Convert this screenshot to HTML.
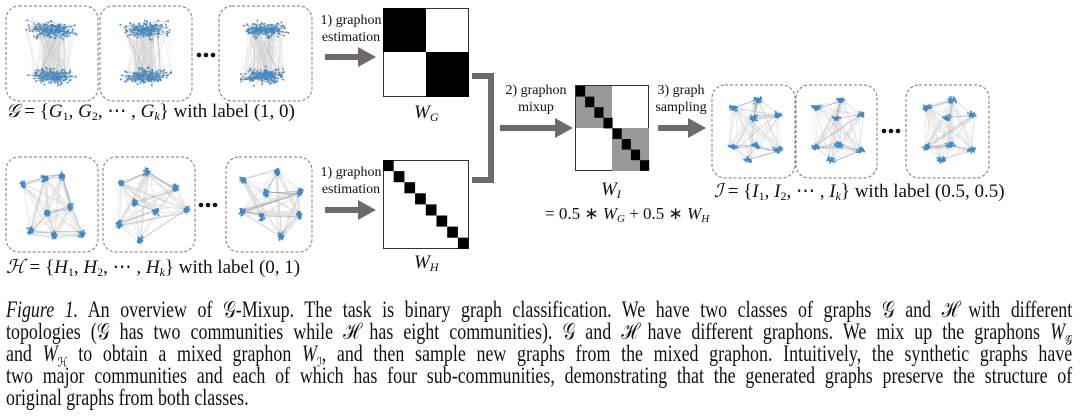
<!DOCTYPE html>
<html><head><meta charset="utf-8"><style>
body{margin:0;background:#fff;width:1080px;height:420px;overflow:hidden;position:relative;font-family:"Liberation Serif",serif;}
svg{position:absolute;left:0;top:0}
.cap{position:absolute;left:6px;width:1367px;font-size:23px;line-height:22px;color:#111;transform:scaleX(0.78);transform-origin:0 0;}
.cap div{text-align:justify;text-align-last:justify;white-space:nowrap;height:22px}
.cap div.last{text-align-last:left}
</style></head><body>
<svg id="s" width="1080" height="290" viewBox="0 0 1080 290" font-family="Liberation Serif, serif">
<g id="graphs"></g>
<g fill="none" stroke="#777" stroke-dasharray="3,2" stroke-width="1">
<rect x="6" y="6" width="92" height="95" rx="13"/><rect x="100" y="6" width="92" height="95" rx="13"/><rect x="219" y="6" width="93" height="95" rx="13"/>
<rect x="6" y="157" width="92" height="95" rx="13"/><rect x="103" y="157" width="92" height="95" rx="13"/><rect x="226" y="157" width="86" height="95" rx="13"/>
<rect x="712" y="85" width="83" height="93" rx="13"/><rect x="796" y="85" width="81" height="93" rx="13"/><rect x="906" y="85" width="83" height="93" rx="13"/>
</g>
<g fill="#111"><circle cx="199" cy="55" r="2.3"/><circle cx="206" cy="55" r="2.3"/><circle cx="213" cy="55" r="2.3"/>
<circle cx="201" cy="205" r="2.3"/><circle cx="208" cy="205" r="2.3"/><circle cx="215" cy="205" r="2.3"/>
<circle cx="884" cy="131" r="2.3"/><circle cx="891" cy="131" r="2.3"/><circle cx="898" cy="131" r="2.3"/></g>
<g font-size="19" fill="#111">
<text x="6" y="117"><tspan font-style="italic">𝒢</tspan> = {<tspan font-style="italic">G</tspan><tspan font-size="12" dy="3">1</tspan><tspan dy="-3">, </tspan><tspan font-style="italic">G</tspan><tspan font-size="12" dy="3">2</tspan><tspan dy="-3">, ⋯ , </tspan><tspan font-style="italic">G</tspan><tspan font-size="12" dy="3" font-style="italic">k</tspan><tspan dy="-3">} with label (1, 0)</tspan></text>
<text x="6" y="273"><tspan font-style="italic">ℋ</tspan> = {<tspan font-style="italic">H</tspan><tspan font-size="12" dy="3">1</tspan><tspan dy="-3">, </tspan><tspan font-style="italic">H</tspan><tspan font-size="12" dy="3">2</tspan><tspan dy="-3">, ⋯ , </tspan><tspan font-style="italic">H</tspan><tspan font-size="12" dy="3" font-style="italic">k</tspan><tspan dy="-3">} with label (0, 1)</tspan></text>
<text x="714" y="197"><tspan font-style="italic">ℐ</tspan> = {<tspan font-style="italic">I</tspan><tspan font-size="12" dy="3">1</tspan><tspan dy="-3">, </tspan><tspan font-style="italic">I</tspan><tspan font-size="12" dy="3">2</tspan><tspan dy="-3">, ⋯ , </tspan><tspan font-style="italic">I</tspan><tspan font-size="12" dy="3" font-style="italic">k</tspan><tspan dy="-3">} with label (0.5, 0.5)</tspan></text>
<text x="414" y="118" font-style="italic">W<tspan font-size="12" dy="3">G</tspan></text>
<text x="414" y="268" font-style="italic">W<tspan font-size="12" dy="3">H</tspan></text>
<text x="601" y="195" font-style="italic">W<tspan font-size="12" dy="3">I</tspan></text>
<text x="545" y="219" font-size="17">= 0.5 ∗ <tspan font-style="italic">W</tspan><tspan font-size="11" dy="3" font-style="italic">G</tspan><tspan dy="-3"> + 0.5 ∗ </tspan><tspan font-style="italic">W</tspan><tspan font-size="11" dy="3" font-style="italic">H</tspan></text>
</g>
<g font-size="14" fill="#111" text-anchor="middle">
<text x="351" y="24">1) graphon</text><text x="351" y="41">estimation</text>
<text x="351" y="176">1) graphon</text><text x="351" y="193">estimation</text>
<text x="536" y="94">2) graphon</text><text x="536" y="111">mixup</text>
<text x="681" y="94">3) graph</text><text x="681" y="111">sampling</text>
</g>
<g fill="#6e6a69">
<path d="M325 54 H358 V47 L376 57 L358 67 V60 H325Z"/>
<path d="M325 207 H358 V200 L376 210 L358 220 V213 H325Z"/>
<path d="M500 125 H555 V118 L573 128 L555 138 V131 H500Z"/>
<path d="M658 125 H688 V118 L706 128 L688 138 V131 H658Z"/>
</g>
<path d="M472 76 H491 V180 H472" fill="none" stroke="#6e6a69" stroke-width="6"/>
<g stroke="#333" stroke-width="1">
<rect x="383.5" y="8.5" width="85" height="88" fill="#fff"/>
<rect x="383.5" y="160.5" width="85" height="88" fill="#fff"/>
<rect x="575.5" y="85.5" width="73" height="85" fill="#fff"/>
</g>
<rect x="383" y="8" width="43" height="44" fill="#000"/><rect x="426" y="52" width="43" height="45" fill="#000"/>
<g id="wh" fill="#000"></g>
<rect x="576" y="86" width="36" height="42" fill="#999"/><rect x="612" y="128" width="37" height="43" fill="#999"/>
<g id="wi" fill="#000"></g>
</svg>
<div class="cap" style="top:299px">
<div><i>Figure 1.</i> An overview of 𝒢-Mixup. The task is binary graph classification. We have two classes of graphs 𝒢 and ℋ with different</div>
<div>topologies (𝒢 has two communities while ℋ has eight communities). 𝒢 and ℋ have different graphons. We mix up the graphons <i>W</i><sub style="font-size:13px">𝒢</sub></div>
<div>and <i>W</i><sub style="font-size:13px">ℋ</sub> to obtain a mixed graphon <i>W</i><sub style="font-size:13px">ℐ</sub>, and then sample new graphs from the mixed graphon. Intuitively, the synthetic graphs have</div>
<div>two major communities and each of which has four sub-communities, demonstrating that the generated graphs preserve the structure of</div>
<div class="last">original graphs from both classes.</div>
</div>
<script>
var NS="http://www.w3.org/2000/svg";
var seed=7;function r(){seed=(seed*16807)%2147483647;return (seed-1)/2147483646;}
function n(){return (r()+r()+r()-1.5)/1.5;}
var g=document.getElementById("graphs");
function graph(cs,rx,ry,per,ne){
 var pts=[];cs.forEach(function(c){for(var i=0;i<per;i++)pts.push([c[0]+n()*rx,c[1]+n()*ry]);});
 var d="";for(var i=0;i<pts.length*ne;i++){var a=pts[Math.floor(r()*pts.length)],b=pts[Math.floor(r()*pts.length)];d+="M"+a[0].toFixed(1)+" "+a[1].toFixed(1)+"L"+b[0].toFixed(1)+" "+b[1].toFixed(1);}
 var p=document.createElementNS(NS,"path");p.setAttribute("d",d);p.setAttribute("stroke","#cfcfcf");p.setAttribute("stroke-width","0.3");p.setAttribute("fill","none");g.appendChild(p);
 var d3="";pts.forEach(function(q,i){if(i%2==0){var b=pts[Math.max(0,i-1-Math.floor(r()*5))];d3+="M"+q[0].toFixed(1)+" "+q[1].toFixed(1)+"L"+b[0].toFixed(1)+" "+b[1].toFixed(1);}});
 var p3=document.createElementNS(NS,"path");p3.setAttribute("d",d3);p3.setAttribute("stroke","#999");p3.setAttribute("stroke-width","0.4");p3.setAttribute("fill","none");g.appendChild(p3);
 var d2="";pts.forEach(function(q){d2+="M"+(q[0]-0.8).toFixed(1)+" "+q[1].toFixed(1)+"h1.6";});
 var p2=document.createElementNS(NS,"path");p2.setAttribute("d",d2);p2.setAttribute("stroke","#3f8ac6");p2.setAttribute("stroke-width","1.6");g.appendChild(p2);
}
[[52,0],[146,0],[265,0]].forEach(function(o){graph([[o[0],30],[o[0],76]],30,11,170,0.6);});
graph([[23,185],[45,179],[62,176],[70,207],[47,213],[30,231],[54,236],[82,234]],4,5,40,0.4);
graph([[121,183],[147,172],[176,188],[135,203],[156,212],[119,224],[186,210],[140,240]],4,5,40,0.4);
graph([[243,180],[277,172],[266,193],[300,192],[242,212],[262,217],[299,215],[281,236]],4,5,40,0.4);
[[753,0],[836,0],[947,0]].forEach(function(o){var x=o[0];graph([[x-20,108],[x+5,100],[x,118],[x+25,115],[x-20,147],[x+3,145],[x+25,150],[x-5,160]],6,4,32,0.5);});
var wh=document.getElementById("wh");
for(var i=0;i<8;i++){var q=document.createElementNS(NS,"rect");q.setAttribute("x",383+i*10.7);q.setAttribute("y",160+i*11.1);q.setAttribute("width",10.7);q.setAttribute("height",11.1);wh.appendChild(q);}
var wi=document.getElementById("wi");
for(var i=0;i<8;i++){var q=document.createElementNS(NS,"rect");q.setAttribute("x",576+i*9.15);q.setAttribute("y",86+i*10.6);q.setAttribute("width",9.15);q.setAttribute("height",10.6);wi.appendChild(q);}
</script>
</body></html>
